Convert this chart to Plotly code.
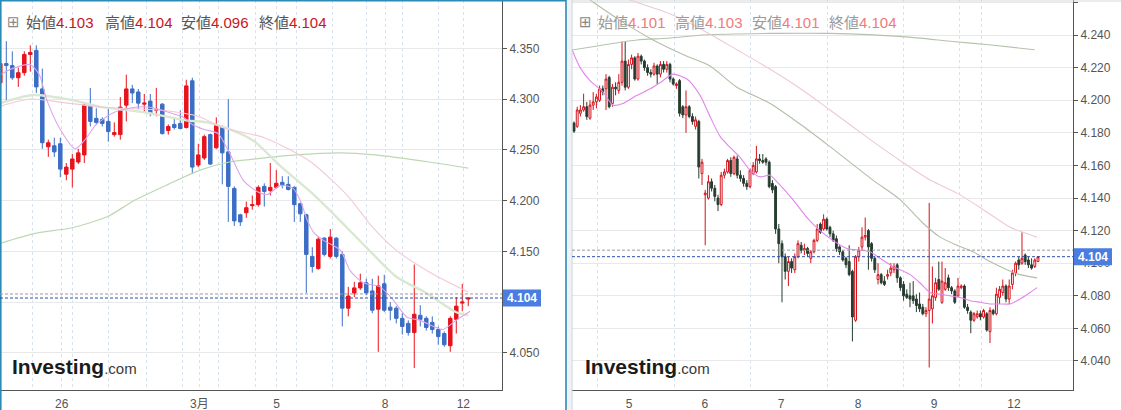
import plotly.graph_objects as go

W, H = 1121, 410
FONT = "Liberation Sans, Arial, 'Noto Sans CJK JP', sans-serif"

# ---------------- left chart: 4-hour bars ----------------
left_open = [4.316, 4.335, 4.333, 4.321, 4.326, 4.344, 4.348, 4.310, 4.253, 4.254,
             4.256, 4.226, 4.231, 4.238, 4.245, 4.293, 4.281, 4.280, 4.278, 4.265,
             4.265, 4.294, 4.310, 4.307, 4.295, 4.298, 4.289, 4.295, 4.269, 4.275,
             4.276, 4.272, 4.318, 4.235, 4.242, 4.265, 4.252, 4.273, 4.248, 4.212,
             4.186, 4.188, 4.195, 4.196, 4.214, 4.210, 4.213, 4.218, 4.216, 4.213,
             4.197, 4.186, 4.145, 4.133, 4.163, 4.145, 4.163, 4.147, 4.094, 4.109,
             4.114, 4.119, 4.111, 4.093, 4.118, 4.095, 4.094, 4.084, 4.079, 4.070,
             4.087, 4.084, 4.080, 4.073, 4.069, 4.057, 4.083, 4.099, 4.103]
left_high = [4.338, 4.357, 4.347, 4.331, 4.347, 4.353, 4.353, 4.330, 4.260, 4.262,
             4.262, 4.237, 4.246, 4.251, 4.295, 4.311, 4.291, 4.282, 4.291, 4.277,
             4.302, 4.324, 4.314, 4.310, 4.305, 4.305, 4.311, 4.296, 4.275, 4.281,
             4.289, 4.319, 4.321, 4.256, 4.265, 4.266, 4.282, 4.274, 4.300, 4.214,
             4.187, 4.199, 4.205, 4.215, 4.217, 4.237, 4.230, 4.224, 4.224, 4.214,
             4.198, 4.187, 4.154, 4.164, 4.164, 4.172, 4.164, 4.150, 4.115, 4.120,
             4.128, 4.123, 4.123, 4.126, 4.127, 4.100, 4.096, 4.089, 4.082, 4.137,
             4.097, 4.086, 4.086, 4.076, 4.071, 4.086, 4.105, 4.118, 4.104]
left_low = [4.312, 4.297, 4.319, 4.312, 4.323, 4.327, 4.306, 4.251, 4.243, 4.243,
            4.223, 4.220, 4.213, 4.236, 4.237, 4.273, 4.275, 4.273, 4.258, 4.263,
            4.260, 4.278, 4.296, 4.290, 4.288, 4.283, 4.283, 4.265, 4.265, 4.270,
            4.270, 4.271, 4.227, 4.233, 4.240, 4.235, 4.251, 4.216, 4.179, 4.175,
            4.175, 4.183, 4.191, 4.194, 4.194, 4.205, 4.212, 4.212, 4.210, 4.179,
            4.179, 4.109, 4.129, 4.132, 4.145, 4.143, 4.143, 4.076, 4.086, 4.105,
            4.112, 4.107, 4.089, 4.051, 4.090, 4.082, 4.079, 4.068, 4.067, 4.035,
            4.076, 4.072, 4.069, 4.058, 4.056, 4.051, 4.069, 4.091, 4.096]
left_close = [4.335, 4.333, 4.321, 4.326, 4.344, 4.346, 4.312, 4.257, 4.257, 4.248,
              4.231, 4.233, 4.241, 4.247, 4.294, 4.278, 4.277, 4.276, 4.268, 4.267,
              4.292, 4.310, 4.306, 4.296, 4.296, 4.286, 4.290, 4.266, 4.273, 4.272,
              4.271, 4.313, 4.233, 4.245, 4.263, 4.236, 4.274, 4.247, 4.214, 4.180,
              4.179, 4.193, 4.196, 4.213, 4.209, 4.213, 4.217, 4.215, 4.211, 4.196,
              4.187, 4.147, 4.135, 4.162, 4.147, 4.164, 4.145, 4.094, 4.106, 4.114,
              4.119, 4.109, 4.092, 4.116, 4.092, 4.092, 4.084, 4.076, 4.070, 4.088,
              4.083, 4.075, 4.073, 4.066, 4.058, 4.084, 4.096, 4.100, 4.104]

left_day_ticks = [10.23, 33.17, 46.07, 64.12, 77.17]
left_day_labels = ["26", "3月", "5", "8", "12"]
left_session_grid = [5.3, 12.1, 18.1, 24.3, 30.3, 36.3, 42.5, 49.3, 55.3, 61.1, 67.1, 73.1]
left_price_ticks = [4.050, 4.100, 4.150, 4.200, 4.250, 4.300, 4.350]
left_price_labels = ["4.050", "", "4.150", "4.200", "4.250", "4.300", "4.350"]

# moving averages on the left chart (bar index, value)
left_ma_fast_x = [0, 2, 5, 6.5, 7.7, 10, 12.5, 14, 16, 19, 22.5, 25, 28, 30.5, 32, 34, 36.3,
                  38.2, 40.5, 42.8, 44.5, 46.7, 48.8, 50, 51.2, 52.2, 53.8, 56.7, 58.3, 60.5,
                  63.3, 65.5, 67.8, 70, 72.2, 73.8, 76.2, 78.3]
left_ma_fast_y = [4.324, 4.330, 4.334, 4.324, 4.300, 4.270, 4.251, 4.259, 4.275, 4.287,
                  4.292, 4.292, 4.287, 4.282, 4.275, 4.270, 4.266, 4.247, 4.220, 4.209,
                  4.206, 4.215, 4.212, 4.200, 4.180, 4.169, 4.161, 4.151, 4.131, 4.119,
                  4.115, 4.102, 4.085, 4.082, 4.076, 4.073, 4.083, 4.091]
left_ma_mid_x = [0, 5, 10, 17, 27, 33, 37, 44, 48.3, 52, 58, 62, 66, 72, 78]
left_ma_mid_y = [4.293, 4.300, 4.297, 4.292, 4.289, 4.283, 4.272, 4.262, 4.250, 4.237,
                 4.204, 4.174, 4.151, 4.128, 4.110]
left_ma_slow_x = [0, 5.5, 12, 17, 24, 31, 34.5, 38.8, 42.2, 46.7, 52, 56, 61, 66, 71, 76, 78]
left_ma_slow_y = [4.296, 4.304, 4.299, 4.292, 4.287, 4.279, 4.277, 4.269, 4.259, 4.234,
                  4.207, 4.184, 4.154, 4.125, 4.109, 4.090, 4.087]
left_ma_long_x = [0, 6, 11.8, 17.8, 22.3, 28, 33.3, 38.2, 44, 49.3, 56.5, 62.5, 71.5, 78]
left_ma_long_y = [4.158, 4.168, 4.173, 4.184, 4.200, 4.216, 4.230, 4.238, 4.242, 4.245,
                  4.247, 4.245, 4.238, 4.232]

# ---------------- right chart: hourly bars ----------------
right_open = [4.186, 4.184, 4.192, 4.194, 4.196, 4.189, 4.197, 4.199, 4.200, 4.207,
              4.207, 4.214, 4.198, 4.208, 4.206, 4.211, 4.224, 4.208, 4.222, 4.226,
              4.213, 4.227, 4.224, 4.220, 4.217, 4.216, 4.221, 4.216, 4.222, 4.219,
              4.222, 4.213, 4.209, 4.212, 4.196, 4.191, 4.196, 4.190, 4.184, 4.187,
              4.155, 4.142, 4.140, 4.150, 4.146, 4.140, 4.136, 4.154, 4.156, 4.163,
              4.155, 4.164, 4.154, 4.152, 4.149, 4.147, 4.155, 4.156, 4.164, 4.163,
              4.164, 4.162, 4.149, 4.147, 4.121, 4.112, 4.104, 4.095, 4.101, 4.096,
              4.104, 4.111, 4.108, 4.109, 4.103, 4.107, 4.114, 4.124, 4.121, 4.127,
              4.122, 4.118, 4.115, 4.110, 4.107, 4.103, 4.101, 4.095, 4.065, 4.104,
              4.110, 4.116, 4.120, 4.112, 4.103, 4.090, 4.093, 4.089, 4.092, 4.094,
              4.096, 4.099, 4.091, 4.087, 4.081, 4.080, 4.080, 4.078, 4.075, 4.073,
              4.069, 4.071, 4.072, 4.079, 4.090, 4.076, 4.084, 4.091, 4.085, 4.083,
              4.080, 4.085, 4.086, 4.073, 4.070, 4.065, 4.067, 4.069, 4.067, 4.069,
              4.058, 4.071, 4.069, 4.079, 4.082, 4.086, 4.078, 4.087, 4.094, 4.102,
              4.100, 4.105, 4.102, 4.099, 4.098, 4.101]
right_high = [4.187, 4.196, 4.197, 4.204, 4.199, 4.200, 4.205, 4.204, 4.209, 4.209,
              4.216, 4.215, 4.210, 4.211, 4.216, 4.236, 4.236, 4.225, 4.228, 4.227,
              4.229, 4.228, 4.225, 4.222, 4.219, 4.223, 4.222, 4.224, 4.224, 4.224,
              4.223, 4.214, 4.211, 4.213, 4.197, 4.206, 4.197, 4.192, 4.190, 4.188,
              4.164, 4.145, 4.154, 4.152, 4.148, 4.142, 4.156, 4.158, 4.164, 4.165,
              4.166, 4.166, 4.157, 4.154, 4.151, 4.158, 4.162, 4.172, 4.167, 4.167,
              4.165, 4.163, 4.151, 4.148, 4.124, 4.114, 4.106, 4.104, 4.103, 4.106,
              4.114, 4.113, 4.112, 4.110, 4.108, 4.115, 4.124, 4.125, 4.130, 4.128,
              4.123, 4.120, 4.117, 4.111, 4.108, 4.104, 4.111, 4.096, 4.105, 4.110,
              4.122, 4.128, 4.121, 4.113, 4.104, 4.100, 4.094, 4.092, 4.096, 4.100,
              4.100, 4.100, 4.092, 4.089, 4.084, 4.088, 4.089, 4.081, 4.082, 4.075,
              4.073, 4.137, 4.098, 4.091, 4.101, 4.101, 4.097, 4.093, 4.086, 4.084,
              4.091, 4.087, 4.087, 4.075, 4.071, 4.070, 4.071, 4.071, 4.072, 4.070,
              4.073, 4.072, 4.085, 4.086, 4.090, 4.087, 4.090, 4.096, 4.101, 4.104,
              4.119, 4.106, 4.104, 4.103, 4.103, 4.103]
right_low = [4.180, 4.183, 4.190, 4.193, 4.188, 4.188, 4.194, 4.195, 4.199, 4.203,
             4.194, 4.195, 4.196, 4.203, 4.204, 4.209, 4.206, 4.207, 4.219, 4.212,
             4.212, 4.222, 4.218, 4.215, 4.214, 4.215, 4.210, 4.214, 4.217, 4.217,
             4.211, 4.209, 4.207, 4.190, 4.189, 4.180, 4.189, 4.185, 4.182, 4.152,
             4.148, 4.111, 4.139, 4.144, 4.138, 4.132, 4.135, 4.152, 4.155, 4.153,
             4.154, 4.152, 4.150, 4.147, 4.145, 4.146, 4.154, 4.155, 4.161, 4.161,
             4.160, 4.146, 4.143, 4.118, 4.100, 4.076, 4.090, 4.086, 4.094, 4.094,
             4.103, 4.106, 4.105, 4.104, 4.100, 4.106, 4.113, 4.118, 4.120, 4.120,
             4.116, 4.113, 4.107, 4.105, 4.101, 4.097, 4.092, 4.052, 4.064, 4.101,
             4.108, 4.114, 4.096, 4.101, 4.094, 4.087, 4.087, 4.086, 4.090, 4.092,
             4.094, 4.088, 4.083, 4.077, 4.078, 4.073, 4.075, 4.070, 4.070, 4.068,
             4.067, 4.036, 4.063, 4.077, 4.083, 4.075, 4.083, 4.083, 4.081, 4.075,
             4.079, 4.084, 4.072, 4.069, 4.057, 4.064, 4.066, 4.065, 4.066, 4.058,
             4.051, 4.068, 4.068, 4.075, 4.080, 4.076, 4.075, 4.084, 4.092, 4.096,
             4.099, 4.099, 4.097, 4.096, 4.097, 4.101]
right_close = [4.181, 4.194, 4.194, 4.196, 4.190, 4.197, 4.199, 4.202, 4.207, 4.205,
               4.213, 4.196, 4.208, 4.207, 4.211, 4.224, 4.208, 4.222, 4.226, 4.213,
               4.227, 4.224, 4.220, 4.217, 4.216, 4.221, 4.216, 4.222, 4.219, 4.222,
               4.213, 4.210, 4.210, 4.192, 4.191, 4.196, 4.190, 4.187, 4.188, 4.159,
               4.162, 4.143, 4.150, 4.146, 4.141, 4.136, 4.154, 4.156, 4.163, 4.155,
               4.165, 4.154, 4.152, 4.149, 4.147, 4.157, 4.160, 4.164, 4.163, 4.162,
               4.162, 4.147, 4.145, 4.121, 4.112, 4.104, 4.095, 4.101, 4.097, 4.104,
               4.112, 4.108, 4.109, 4.106, 4.107, 4.114, 4.121, 4.119, 4.127, 4.121,
               4.118, 4.114, 4.109, 4.107, 4.102, 4.099, 4.093, 4.067, 4.104, 4.108,
               4.116, 4.117, 4.110, 4.103, 4.096, 4.093, 4.088, 4.087, 4.093, 4.097,
               4.098, 4.091, 4.085, 4.080, 4.079, 4.078, 4.077, 4.074, 4.072, 4.069,
               4.071, 4.078, 4.080, 4.088, 4.084, 4.089, 4.088, 4.085, 4.083, 4.076,
               4.086, 4.086, 4.073, 4.071, 4.065, 4.069, 4.069, 4.067, 4.071, 4.059,
               4.071, 4.069, 4.081, 4.084, 4.086, 4.078, 4.086, 4.094, 4.100, 4.099,
               4.103, 4.101, 4.099, 4.097, 4.102, 4.104]

right_day_ticks = [17.2, 40.9, 64.7, 88.75, 112.5, 137.5]
right_day_labels = ["5", "6", "7", "8", "9", "12"]
right_session_grid = [7.2, 31.3, 55.0, 79.1, 103.1, 120.6, 127.2]

right_ma_fast_x = [-0.6, 1.9, 5, 9.1, 12.2, 15.3, 19.7, 23.8, 27.8, 30.9, 35.3, 39.4, 42.5,
                   45.6, 48.8, 51.9, 55, 58.1, 61.3, 63.4, 68.4, 72.8, 76.9, 80.9, 85.3,
                   89.4, 92.5, 95.6, 99.7, 105, 108.1, 111.3, 114.4, 117.5, 120.6, 123.8,
                   126.9, 130, 133.1, 136.3, 139.4, 142.5, 144.7]
right_ma_fast_y = [4.231, 4.220, 4.212, 4.205, 4.197, 4.198, 4.203, 4.207, 4.212, 4.216,
                   4.213, 4.203, 4.190, 4.178, 4.171, 4.165, 4.157, 4.153, 4.154, 4.150,
                   4.139, 4.128, 4.120, 4.114, 4.109, 4.108, 4.107, 4.103, 4.098, 4.093,
                   4.088, 4.082, 4.081, 4.080, 4.079, 4.077, 4.076, 4.075, 4.075, 4.075,
                   4.078, 4.082, 4.085]
right_ma_mid_x = [0, 17.5, 30, 40.3, 50.9, 61.3, 71.6, 80, 92.5, 101.9, 111.3, 119.7,
                  127.8, 136.3, 140.3, 144.7]
right_ma_mid_y = [4.273, 4.2615, 4.253, 4.243, 4.231, 4.219, 4.206, 4.194, 4.176, 4.163,
                  4.151, 4.143, 4.133, 4.122, 4.119, 4.116]
right_ma_slow_x = [0, 5, 14.4, 24.7, 35.3, 42.5, 50.9, 61.3, 71.6, 80, 93.4, 101.9,
                   109.1, 114.4, 119.7, 124.7, 130, 135.3, 139.4, 144.7]
right_ma_slow_y = [4.268, 4.2615, 4.249, 4.237, 4.227, 4.221, 4.208, 4.198, 4.184, 4.1715,
                   4.151, 4.139, 4.1245, 4.116, 4.111, 4.107, 4.101, 4.096, 4.093, 4.091]
right_ma_long_x = [-0.6, 19.7, 29, 40.3, 61.3, 80, 102.8, 118.4, 129.7, 144]
right_ma_long_y = [4.2308, 4.237, 4.238, 4.240, 4.241, 4.241, 4.239, 4.236, 4.234, 4.231]

ref_level = 4.108   # dotted reference level shown on both charts

# ---------------- styling ----------------
L_UP, L_DN = "#e8131c", "#3b6ec5"
R_UP, R_DN = "#d4121b", "#263c2f"
HGRID = "#e8e8e8"
VGRID = "#d9e1ea"
AXIS = "#555555"
BADGE = "#4a7de2"

fig = go.Figure()


def ma(x, y, color, width, xa, ya):
    fig.add_trace(go.Scatter(x=x, y=y, mode="lines", xaxis=xa, yaxis=ya,
                             line=dict(color=color, width=width, shape="spline", smoothing=0.7),
                             hoverinfo="skip"))


# left chart
ma(left_ma_long_x, left_ma_long_y, "#bcd8b3", 1.2, "x", "y")
ma(left_ma_slow_x, left_ma_slow_y, "#dae8d3", 2.4, "x", "y")
ma(left_ma_mid_x, left_ma_mid_y, "#f3c9d9", 1.1, "x", "y")
ma(left_ma_fast_x, left_ma_fast_y, "#dba6ea", 1.1, "x", "y")
left_x = list(range(len(left_close)))
fig.add_trace(go.Candlestick(
    x=left_x, open=left_open, high=left_high, low=left_low, close=left_close,
    xaxis="x", yaxis="y", whiskerwidth=0, hoverinfo="skip",
    increasing=dict(line=dict(color=L_UP, width=1), fillcolor=L_UP),
    decreasing=dict(line=dict(color=L_DN, width=1), fillcolor=L_DN)))

# right chart
ma(right_ma_long_x, right_ma_long_y, "#b4c4ab", 1.1, "x2", "y2")
ma(right_ma_slow_x, right_ma_slow_y, "#b0bfa7", 1.1, "x2", "y2")
ma(right_ma_mid_x, right_ma_mid_y, "#f0c8d4", 1.1, "x2", "y2")
ma(right_ma_fast_x, right_ma_fast_y, "#e386ec", 1.1, "x2", "y2")
right_x = list(range(len(right_close)))
fig.add_trace(go.Candlestick(
    x=right_x, open=right_open, high=right_high, low=right_low, close=right_close,
    xaxis="x2", yaxis="y2", whiskerwidth=0, hoverinfo="skip",
    increasing=dict(line=dict(color=R_UP, width=1), fillcolor="#ffffff"),
    decreasing=dict(line=dict(color=R_DN, width=1), fillcolor=R_DN)))

tickfont = dict(family=FONT, size=12, color=AXIS)

xcommon = dict(showline=True, linecolor=AXIS, linewidth=1, zeroline=False,
               tickmode="array", ticks="outside", ticklen=3, tickcolor="rgba(0,0,0,0)",
               tickfont=tickfont, rangeslider=dict(visible=False), fixedrange=True)
ycommon = dict(showline=True, linecolor=AXIS, linewidth=1, zeroline=False, side="right",
               ticks="outside", ticklen=4, tickcolor=AXIS, tickformat=".3f",
               showgrid=True, gridcolor=HGRID, gridwidth=1, tickfont=tickfont, fixedrange=True)

fig.update_layout(
    width=W, height=H, margin=dict(l=0, r=0, t=0, b=0),
    paper_bgcolor="#ffffff", plot_bgcolor="#ffffff",
    showlegend=False, hovermode=False, boxgap=0.42, boxgroupgap=0,
    font=dict(family=FONT),
    xaxis=dict(domain=[0, 502 / W], anchor="y", range=[-0.05, 83.62],
               tickvals=left_day_ticks, ticktext=left_day_labels,
               showgrid=True, gridcolor=VGRID, griddash="3px,3px",
               minor=dict(tickmode="array", tickvals=left_session_grid, showgrid=True,
                          gridcolor=VGRID, griddash="3px,3px", ticks=""),
               **xcommon),
    yaxis=dict(domain=[20 / H, 1], anchor="x", range=[4.0134, 4.3976],
               tickmode="array", tickvals=left_price_ticks, ticktext=left_price_labels,
               **ycommon),
    xaxis2=dict(domain=[572 / W, 1073 / W], anchor="y2", range=[-0.625, 155.94],
                tickvals=right_day_ticks, ticktext=right_day_labels, showgrid=False,
                minor=dict(tickmode="array", tickvals=right_session_grid, showgrid=True,
                           gridcolor=VGRID, griddash="3px,3px", ticks=""),
                **xcommon),
    yaxis2=dict(domain=[20 / H, 1], anchor="x2", range=[4.0222, 4.2615],
                tick0=4.0, dtick=0.02, **ycommon),
)

shapes = []
annotations = []

# panel frames
shapes.append(dict(type="rect", xref="paper", yref="paper", x0=567 / W, x1=571.5 / W,
                   y0=0, y1=1, fillcolor="#f0f3f6", line=dict(width=0), layer="above"))
shapes.append(dict(type="rect", xref="paper", yref="paper", x0=0.8 / W, x1=566 / W,
                   y0=-0.01, y1=1 - 0.6 / H, fillcolor="rgba(0,0,0,0)",
                   line=dict(color="#2a8cb6", width=1.6), layer="above"))
shapes.append(dict(type="line", xref="paper", yref="paper", x0=572 / W, x1=572 / W,
                   y0=0, y1=1, line=dict(color="#c9d0d7", width=1), layer="above"))
shapes.append(dict(type="line", xref="paper", yref="paper", x0=572 / W, x1=1,
                   y0=1 - 1 / H, y1=1 - 1 / H, line=dict(color="#d5dade", width=1), layer="above"))

panels = [
    ("x", "y", left_open, left_high, left_low, left_close, 502, 541, 17 / 1015.0 / 2,
     ["#555555", "#c9161e"], 5, [25, 104, 180, 258], 12),
    ("x2", "y2", right_open, right_high, right_low, right_close, 1073, 1112, 17 / 1630.0 / 2,
     ["#9a9a9a", "#ef7b7b"], 577, [597, 674, 751, 828], 585),
]

for (xa, ya, o, hi, lo, c, bx0, bx1, half, colors, icon_x, label_x, logo_x) in panels:
    last = c[-1]
    # current and reference price levels
    shapes.append(dict(type="line", xref=xa + " domain", yref=ya, x0=0, x1=1, y0=ref_level,
                       y1=ref_level, line=dict(color="#9c9c9c", width=1, dash="3px,2px")))
    shapes.append(dict(type="line", xref=xa + " domain", yref=ya, x0=0, x1=1, y0=last,
                       y1=last, line=dict(color="#2c4ea8", width=1, dash="3px,2px")))
    # price badge on the value axis
    shapes.append(dict(type="rect", xref="paper", yref=ya, x0=(bx0 + 1) / W, x1=bx1 / W,
                       y0=last - half, y1=last + half, fillcolor=BADGE,
                       line=dict(width=0), layer="above"))
    annotations.append(dict(xref="paper", yref=ya, x=(bx0 + 1 + bx1) / 2 / W, y=last,
                            text="<b>%.3f</b>" % last, showarrow=False, xanchor="center",
                            yanchor="middle", font=dict(family=FONT, size=12, color="#ffffff")))
    # OHLC header
    annotations.append(dict(xref="paper", yref="paper", x=icon_x / W, y=1 - 22 / H,
                            text="⊞", showarrow=False, xanchor="left", yanchor="middle",
                            font=dict(family="DejaVu Sans", size=15, color="#888888")))
    names = ["始値", "高値", "安値", "終値"]
    vals = [o[-1], hi[-1], lo[-1], c[-1]]
    for name, v, lx in zip(names, vals, label_x):
        annotations.append(dict(
            xref="paper", yref="paper", x=(lx - 1) / W, y=1 - 22 / H, showarrow=False,
            xanchor="left", yanchor="middle",
            text="%s<span style='color:%s'>%.3f</span>" % (name, colors[1], v),
            font=dict(family=FONT, size=15, color=colors[0])))
    # brand mark
    annotations.append(dict(
        xref="paper", yref="paper", x=(logo_x - 2) / W, y=1 - 366 / H, showarrow=False,
        xanchor="left", yanchor="middle",
        text="<b>Investing</b><span style='font-size:15px;color:#3a3a3a'>.com</span>",
        font=dict(family=FONT, size=21, color="#1b1b1b")))

fig.update_layout(shapes=shapes, annotations=annotations)
fig.write_html("out.html")
